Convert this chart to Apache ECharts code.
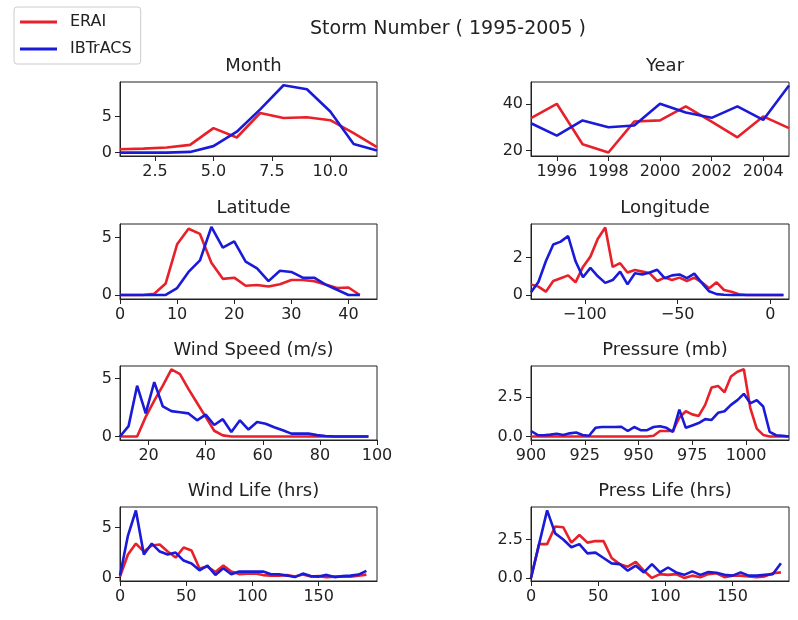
<!DOCTYPE html>
<html><head><meta charset="utf-8">
<script src="https://cdn.jsdelivr.net/npm/echarts@6/dist/echarts.min.js"></script>
<style>html,body{margin:0;padding:0;background:#fff}#c{width:798px;height:620px}</style>
</head><body><div id="c"></div>
<script>
// ---------- DATA ----------
const seriesNames = ['ERAI', 'IBTrACS'];
const panelTitles = ['Month', 'Year', 'Latitude', 'Longitude', 'Wind Speed (m/s)', 'Pressure (mb)', 'Wind Life (hrs)', 'Press Life (hrs)'];
const mainTitle = 'Storm Number ( 1995-2005 )';

const monthX = [1,2,3,4,5,6,7,8,9,10,11,12];
const monthERAI = [0.47,0.55,0.7,1.07,3.4,2.1,5.5,4.8,4.9,4.5,2.7,0.75];
const monthIBT = [0,0,0,0.1,0.9,2.9,6.0,9.35,8.8,5.7,1.2,0.3];

const yearX = [1995,1996,1997,1998,1999,2000,2001,2002,2003,2004,2005];
const yearERAI = [33.9,40,22.7,19.2,32.4,32.9,38.9,32.4,25.7,34.6,29.6];
const yearIBT = [31.7,26.4,32.9,30,30.7,40,36.3,34,38.9,33.1,47.8];

const latX = [0,2,4,6,8,10,12,14,16,18,20,22,24,26,28,30,32,34,36,38,40,42];
const latERAI = [0,0,0,0.1,1.0,4.4,5.75,5.3,2.8,1.4,1.5,0.8,0.87,0.73,0.93,1.3,1.3,1.2,0.9,0.6,0.65,0];
const latIBT = [0,0,0,0,0,0.6,2.0,3.0,5.9,4.1,4.65,2.9,2.3,1.2,2.1,2.0,1.5,1.5,0.9,0.45,0,0];

const lonX = [-129,-125,-121,-117,-113,-109,-105,-101,-97,-93,-89,-85,-81,-77,-73,-69,-65,-61,-57,-53,-49,-45,-41,-37,-33,-29,-25,-21,-17,-13,-9,-5,-1,3,7];
const lonERAI = [0.57,0.45,0.18,0.75,0.9,1.05,0.68,1.5,2.05,3.0,3.6,1.5,1.7,1.2,1.34,1.25,1.16,0.75,0.93,0.8,0.93,0.75,0.93,0.68,0.36,0.68,0.27,0.18,0.04,0,0,0,0,0,0];
const lonIBT = [0.15,0.7,1.8,2.7,2.85,3.15,1.8,0.95,1.45,1.0,0.65,0.8,1.25,0.57,1.16,1.1,1.2,1.35,0.9,1.05,1.1,0.9,1.14,0.65,0.2,0.05,0.02,0,0,0,0,0,0,0,0];

const windX = [10,13,16,19,22,25,28,31,34,37,40,43,46,49,52,55,58,61,64,67,70,73,76,79,82,85,88,91,94,97];
const windERAI = [0,0,0,1.7,3.1,4.4,5.8,5.4,4.1,2.9,1.7,0.5,0.1,0,0,0,0,0,0,0,0,0,0,0,0,0,0,0,0,0];
const windIBT = [0,0.9,4.4,2.0,4.7,2.6,2.2,2.1,2.0,1.4,1.9,1.0,1.5,0.4,1.4,0.6,1.25,1.1,0.8,0.55,0.25,0.25,0.25,0.12,0.05,0,0,0,0,0];

const presX = [900,903,906,909,912,915,918,921,924,927,930,933,936,939,942,945,948,951,954,957,960,963,966,969,972,975,978,981,984,987,990,993,996,999,1002,1005,1008,1011,1014,1017,1020];
const presERAI = [0,0,0,0,0,0,0,0,0,0,0,0,0,0,0,0,0,0,0,0.05,0.35,0.35,0.35,1.2,1.6,1.4,1.3,2.0,3.1,3.2,2.8,3.8,4.1,4.25,1.8,0.5,0.1,0,0,0,0];
const presIBT = [0.35,0.1,0.08,0.12,0.17,0.1,0.2,0.25,0.1,0.05,0.55,0.6,0.6,0.6,0.62,0.35,0.6,0.4,0.4,0.6,0.65,0.55,0.3,1.7,0.55,0.7,0.85,1.1,1.05,1.5,1.6,2.0,2.3,2.7,2.1,2.3,1.9,0.3,0.08,0.05,0.0];

const lifeX = [0,6,12,18,24,30,36,42,48,54,60,66,72,78,84,90,96,102,108,114,120,126,132,138,144,150,156,162,168,174,180,186];
const windLifeERAI = [0.1,2.3,3.4,2.6,3.2,3.3,2.6,2.0,3.0,2.7,0.9,1.1,0.55,1.2,0.6,0.35,0.4,0.4,0.25,0.2,0.2,0.25,0.1,0.3,0.1,0.15,0.05,0.1,0.1,0.1,0.2,0.3];
const windLifeIBT = [0.2,4.2,6.7,2.3,3.4,2.6,2.3,2.5,1.7,1.4,0.73,1.2,0.27,0.93,0.33,0.6,0.6,0.6,0.6,0.33,0.33,0.2,0.05,0.4,0.15,0.1,0.27,0.05,0.15,0.2,0.3,0.67];
const pressLifeERAI = [0,2.2,2.2,3.35,3.3,2.3,2.8,2.3,2.4,2.4,1.3,0.9,0.73,1.05,0.47,0,0.25,0.2,0.25,0,0.15,0.05,0.25,0.3,0.05,0.15,0.15,0.1,0.05,0.1,0.3,0.36];
const pressLifeIBT = [0,2.2,4.4,2.9,2.5,2.0,2.2,1.6,1.65,1.3,0.95,0.9,0.47,0.8,0.36,0.9,0.36,0.68,0.36,0.2,0.43,0.2,0.38,0.34,0.2,0.15,0.36,0.15,0.15,0.2,0.25,0.95];

// tick values per panel [x ticks, y ticks] and decimals
const xTicks = [[2.5,5,7.5,10],[1996,1998,2000,2002,2004],[0,10,20,30,40],[-100,-50,0],[20,40,60,80,100],[900,925,950,975,1000],[0,50,100,150],[0,50,100,150]];
const xDec = [1,0,0,0,0,0,0,0];
const yTicks = [[0,5],[20,40],[0,5],[0,2],[0,5],[0,2.5],[0,5],[0,2.5]];
const yDec = [0,0,0,0,0,1,0,1];
const xRange = [[1,12],[1995,2005],[0,45],[-129,10],[10,100],[900,1020],[0,194],[0,192]];
const yRange = [[-0.47,9.8],[17.7,49.3],[-0.35,6.16],[-0.21,3.79],[-0.3,6.1],[-0.22,4.46],[-0.34,7.05],[-0.2,4.62]];

const panels = [
  [monthX, monthERAI, monthIBT],
  [yearX, yearERAI, yearIBT],
  [latX, latERAI, latIBT],
  [lonX, lonERAI, lonIBT],
  [windX, windERAI, windIBT],
  [presX, presERAI, presIBT],
  [lifeX, windLifeERAI, windLifeIBT],
  [lifeX, pressLifeERAI, pressLifeIBT]
];

// ---------- LAYOUT ----------
const colLeft = [120, 531];
const colWidth = [257, 258];
const rowTop = [82, 224, 366, 507];
const rowHeight = [74, 75, 74, 74];
const RED = '#e8202a', BLUE = '#1a1ad8', INK = '#222';
const FONT = 'DejaVu Sans';

const grids = [], xAxes = [], yAxes = [], series = [], titles = [];
titles.push({text: mainTitle, left: 443, top: 15, textAlign: 'center',
  textStyle: {fontFamily: FONT, fontSize: 19, fontWeight: 'normal', color: INK}});

function fmt(v, d) {
  return v.toFixed(d).replace('-', '\u2212');
}

panels.forEach((p, i) => {
  const c = i % 2, r = Math.floor(i / 2);
  grids.push({left: colLeft[c], top: rowTop[r], width: colWidth[c], height: rowHeight[r],
    show: true, borderColor: INK, borderWidth: 1, backgroundColor: 'transparent', outerBoundsMode: 'none'});
  titles.push({text: panelTitles[i], left: colLeft[c] + colWidth[c] / 2, top: rowTop[r] - 30, textAlign: 'center',
    textStyle: {fontFamily: FONT, fontSize: 18, fontWeight: 'normal', color: INK}});
  const mk = (range, ticks, dec) => ({
    type: 'value', gridIndex: i, min: range[0], max: range[1], scale: true,
    axisLine: {show: true, onZero: false, lineStyle: {color: INK, width: 1}},
    axisTick: {show: true, length: 5, customValues: ticks, lineStyle: {color: INK, width: 1}},
    axisLabel: {customValues: ticks, formatter: v => fmt(v, dec), fontFamily: FONT, fontSize: 16, color: INK, margin: 8},
    splitLine: {show: false}
  });
  xAxes.push(mk(xRange[i], xTicks[i], xDec[i]));
  yAxes.push(mk(yRange[i], yTicks[i], yDec[i]));
  [[p[1], RED, 0], [p[2], BLUE, 1]].forEach(([vals, col, k]) => {
    series.push({
      name: seriesNames[k], type: 'line', xAxisIndex: i, yAxisIndex: i,
      data: p[0].map((x, j) => [x, vals[j]]),
      symbol: 'none', showSymbol: false, clip: true,
      lineStyle: {color: col, width: 2.6}, itemStyle: {color: col}, z: 2 + k
    });
  });
});

const chart = echarts.init(document.getElementById('c'), null, {renderer: 'canvas'});
chart.setOption({
  animation: false,
  backgroundColor: '#fff',
  title: titles,
  legend: {
    data: seriesNames.map(n => ({name: n, icon: 'rect'})), orient: 'vertical', left: 14, top: 7,
    itemWidth: 37, itemHeight: 3, itemGap: 11, padding: [7, 9, 7, 6],
    borderColor: '#ccc', borderWidth: 1, borderRadius: 3, backgroundColor: '#fff',
    textStyle: {fontFamily: FONT, fontSize: 16, color: INK, padding: [0, 0, 0, 8]}
  },
  grid: grids, xAxis: xAxes, yAxis: yAxes, series: series
});
</script></body></html>
